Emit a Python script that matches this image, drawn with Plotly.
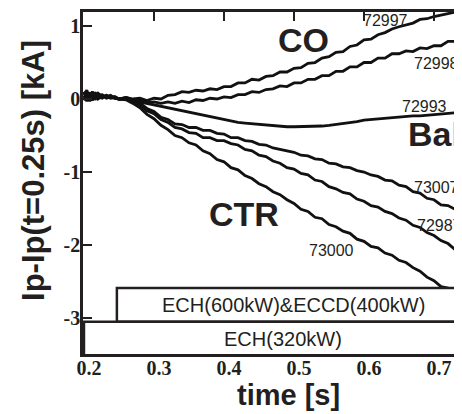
import plotly.graph_objects as go

# ---- data ----
time_s = [0.200, 0.204, 0.208, 0.212, 0.216, 0.220, 0.226, 0.232, 0.238, 0.244, 0.250,
          0.26, 0.27, 0.28, 0.29, 0.30, 0.31, 0.32, 0.33, 0.34, 0.35,
          0.36, 0.37, 0.38, 0.39, 0.40, 0.41, 0.42, 0.43, 0.44, 0.45,
          0.46, 0.47, 0.48, 0.49, 0.50, 0.51, 0.52, 0.53, 0.54, 0.55,
          0.56, 0.57, 0.58, 0.59, 0.60, 0.61, 0.62, 0.63, 0.64, 0.65,
          0.66, 0.67, 0.68, 0.69, 0.70, 0.71, 0.72, 0.73, 0.74]

ip_72997 = [0.06, 0.12, 0.02, 0.10, 0.04, 0.08, 0.03, 0.05, 0.02, 0.03, 0.00,
            0.02, 0.00, 0.01, -0.02, 0.01, 0.00, 0.05, 0.06, 0.10, 0.09,
            0.12, 0.11, 0.14, 0.13, 0.17, 0.17, 0.22, 0.22, 0.27, 0.26,
            0.31, 0.32, 0.37, 0.37, 0.42, 0.43, 0.49, 0.50, 0.56, 0.58,
            0.64, 0.65, 0.72, 0.74, 0.81, 0.82, 0.88, 0.91, 0.96, 0.99,
            1.02, 1.04, 1.09, 1.10, 1.13, 1.15, 1.17, 1.18, 1.21]

ip_72998 = [0.02, 0.08, -0.03, 0.07, 0.01, 0.05, 0.06, 0.02, 0.04, 0.01, 0.00,
            0.02, -0.01, -0.01, -0.05, -0.04, -0.06, -0.04, -0.06, -0.03, -0.05,
            -0.01, -0.02, 0.01, 0.00, 0.03, 0.02, 0.06, 0.06, 0.10, 0.09,
            0.13, 0.14, 0.18, 0.17, 0.22, 0.22, 0.27, 0.27, 0.32, 0.32,
            0.38, 0.38, 0.44, 0.44, 0.50, 0.50, 0.56, 0.56, 0.62, 0.62,
            0.66, 0.65, 0.70, 0.69, 0.73, 0.73, 0.79, 0.79, 0.84]

ip_72993 = [0.10, 0.03, 0.09, 0.00, 0.07, 0.02, 0.05, 0.01, 0.03, 0.02, 0.00,
            0.00, -0.02, -0.04, -0.07, -0.09, -0.11, -0.13, -0.15, -0.17, -0.19,
            -0.21, -0.23, -0.25, -0.27, -0.29, -0.31, -0.32, -0.33, -0.34, -0.35,
            -0.36, -0.37, -0.37, -0.38, -0.38, -0.38, -0.38, -0.37, -0.37, -0.36,
            -0.35, -0.34, -0.32, -0.31, -0.29, -0.28, -0.27, -0.26, -0.25, -0.25,
            -0.24, -0.23, -0.23, -0.22, -0.21, -0.21, -0.20, -0.19, -0.19]

ip_73007 = [-0.02, 0.06, 0.01, 0.09, -0.01, 0.06, 0.02, 0.04, 0.01, 0.02, 0.00,
            0.00, -0.03, -0.06, -0.13, -0.17, -0.25, -0.28, -0.34, -0.35, -0.39,
            -0.39, -0.43, -0.43, -0.47, -0.48, -0.53, -0.53, -0.57, -0.58, -0.62,
            -0.63, -0.67, -0.69, -0.72, -0.73, -0.77, -0.78, -0.82, -0.83, -0.88,
            -0.89, -0.93, -0.94, -0.98, -1.00, -1.04, -1.06, -1.11, -1.12, -1.18,
            -1.20, -1.27, -1.29, -1.36, -1.38, -1.45, -1.46, -1.51, -1.54]

ip_72987 = [0.04, -0.03, 0.08, 0.02, 0.06, 0.00, 0.04, 0.03, 0.05, 0.01, 0.00,
            0.00, -0.04, -0.08, -0.16, -0.20, -0.28, -0.32, -0.39, -0.41, -0.46,
            -0.47, -0.53, -0.53, -0.57, -0.57, -0.61, -0.63, -0.69, -0.71, -0.77,
            -0.79, -0.85, -0.88, -0.94, -0.96, -1.02, -1.04, -1.11, -1.13, -1.20,
            -1.23, -1.28, -1.30, -1.37, -1.40, -1.46, -1.48, -1.54, -1.57, -1.63,
            -1.66, -1.73, -1.76, -1.83, -1.87, -1.94, -1.98, -2.06, -2.12]

ip_73000 = [0.08, 0.01, 0.05, -0.02, 0.09, 0.03, 0.01, 0.05, 0.02, 0.03, 0.00,
            -0.01, -0.06, -0.12, -0.21, -0.27, -0.36, -0.42, -0.50, -0.53, -0.60,
            -0.63, -0.71, -0.75, -0.83, -0.86, -0.94, -0.97, -1.05, -1.09, -1.16,
            -1.20, -1.27, -1.31, -1.38, -1.43, -1.51, -1.54, -1.62, -1.64, -1.72,
            -1.75, -1.81, -1.84, -1.92, -1.95, -2.02, -2.04, -2.11, -2.14, -2.21,
            -2.24, -2.31, -2.36, -2.44, -2.49, -2.57, -2.59, -2.65, -2.68]

series = [ip_72997, ip_72998, ip_72993, ip_73007, ip_72987, ip_73000]
shot_names = ["72997", "72998", "72993", "73007", "72987", "73000"]

x_tick_vals = [0.2, 0.3, 0.4, 0.5, 0.6, 0.7]
x_tick_text = ["0.2", "0.3", "0.4", "0.5", "0.6", "0.7"]
y_tick_vals = [1, 0, -1, -2, -3]
y_tick_text = ["1", "0", "-1", "-2", "-3"]

ech_start = 0.2
eccd_start = 0.247
ech_label = "ECH(320kW)"
eccd_label = "ECH(600kW)&ECCD(400kW)"

# ---- figure ----
INK = "#231f20"
X_RANGE = [0.1986, 0.74]
Y_RANGE = [-3.493, 1.192]

fig = go.Figure()
for name, ys in zip(shot_names, series):
    fig.add_trace(go.Scatter(x=time_s, y=ys, mode="lines", name=name,
                             line=dict(color="#111111", width=2.8),
                             showlegend=False, hoverinfo="skip"))
# empty trace for the right-hand tick axis
fig.add_trace(go.Scatter(x=[], y=[], yaxis="y2", showlegend=False, hoverinfo="skip"))

tick_font = dict(family="Liberation Serif", size=20, color=INK, weight="bold")

# the page body has an 8px margin, so the figure is 8px smaller and offset
fig.update_layout(
    template="none",
    width=454, height=406,
    margin=dict(l=75, r=0, t=4, b=60),
    paper_bgcolor="white", plot_bgcolor="white",
    showlegend=False,
    xaxis=dict(range=X_RANGE, tickvals=x_tick_vals, ticktext=x_tick_text,
               ticks="inside", ticklen=9, tickwidth=2, tickcolor=INK,
               showline=True, linewidth=2.5, linecolor=INK, mirror="ticks",
               showgrid=False, zeroline=False, tickfont=tick_font,
               ticklabelshift=5, ticklabelstandoff=-6, automargin=False),
    yaxis=dict(range=Y_RANGE, tickvals=y_tick_vals, ticktext=y_tick_text,
               ticks="inside", ticklen=9, tickwidth=2, tickcolor=INK,
               showline=True, linewidth=2.5, linecolor=INK,
               showgrid=False, zeroline=False, tickfont=tick_font,
               ticklabelstandoff=-4, automargin=False),
    yaxis2=dict(range=Y_RANGE, overlaying="y", side="right", anchor="x",
                tickvals=y_tick_vals, ticks="inside", ticklen=6, tickwidth=2,
                tickcolor=INK, showticklabels=False, showline=False,
                showgrid=False, zeroline=False, automargin=False),
)

# heating boxes
fig.add_shape(type="rect", xref="x", yref="y", x0=eccd_start, x1=0.80, y0=-3.05, y1=-2.59,
              line=dict(color=INK, width=2.5), fillcolor="white", layer="above")
fig.add_shape(type="rect", xref="x", yref="y", x0=ech_start, x1=0.80, y0=-3.60, y1=-3.05,
              line=dict(color=INK, width=2.5), fillcolor="white", layer="above")

sans = "Liberation Sans"
fig.add_annotation(x=0.5, xref="x", y=-2.82, yref="y", text=eccd_label, showarrow=False,
                   font=dict(family=sans, size=20, color=INK), xanchor="center", yanchor="middle")
fig.add_annotation(x=0.485, xref="x", y=-3.29, yref="y", text=ech_label, showarrow=False,
                   font=dict(family=sans, size=20, color=INK), xanchor="center", yanchor="middle")

# group labels
big = dict(family=sans, size=34, color=INK, weight="bold")
fig.add_annotation(x=0.514, y=0.81, text="CO", showarrow=False, font=big,
                   xanchor="center", yanchor="middle")
fig.add_annotation(x=0.66, y=-0.48, text="Bal", showarrow=False, font=big,
                   xanchor="left", yanchor="middle")
fig.add_annotation(x=0.429, y=-1.575, text="CTR", showarrow=False, font=big,
                   xanchor="center", yanchor="middle")

# shot number labels
small = dict(family=sans, size=16, color=INK)
shot_label_pos = {
    "72997": (0.631, 1.08, "center", 0),
    "72998": (0.704, 0.49, "center", 0),
    "72993": (0.686, -0.10, "center", 0),
    "73007": (0.674, -1.21, "left", -4),
    "72987": (0.677, -1.73, "left", -3),
    "73000": (0.553, -2.07, "center", 0),
}
for name in shot_names:
    xx, yy, anc, dx = shot_label_pos[name]
    fig.add_annotation(x=xx, y=yy, text=name, showarrow=False, font=small,
                       xanchor=anc, yanchor="middle", xshift=dx)

# axis titles
fig.add_annotation(xref="paper", yref="paper", x=-0.132, y=0.538,
                   text="Ip-Ip(t=0.25s) [kA]", textangle=-90, showarrow=False,
                   font=dict(family=sans, size=31, color=INK, weight="bold"),
                   xanchor="center", yanchor="middle")
fig.add_annotation(xref="paper", yref="paper", x=0.541, y=-0.12,
                   text="time [s]", showarrow=False,
                   font=dict(family=sans, size=29, color=INK, weight="bold"),
                   xanchor="center", yanchor="middle")

fig.write_html("out.html")
